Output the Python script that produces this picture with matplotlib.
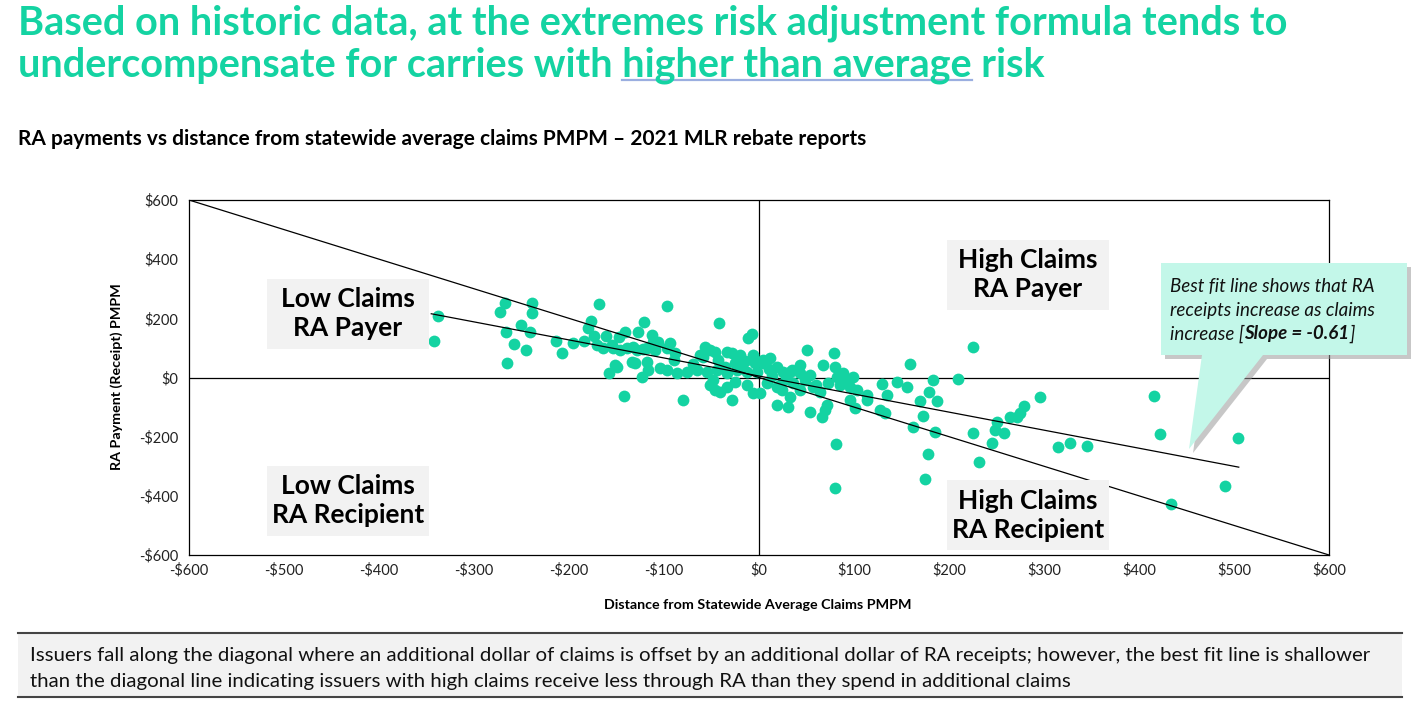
import matplotlib
matplotlib.use('Agg')
import matplotlib.pyplot as plt
from matplotlib.patches import Polygon, Rectangle
from matplotlib.lines import Line2D
import numpy as np

plt.rcParams['font.family'] = ['Lato', 'DejaVu Sans']

# distance from statewide average claims PMPM ($) and RA payment (receipt) PMPM ($)
claims = [-338, -342, -267, -273, -239, -239, -251, -266, -241, -258, -245, -265,
          -214, -207, -196, -184, -168, -177, -180, -174, -161, -171, -164, -147,
          -141, -127, -121, -113, -154, -146, -139, -128, -118, -109, -134, -131,
          -149, -158, -118, -117, -123, -142, -104, -97, -42, -7, -12,
          -112, -106, -94, -155, -133, -122, -97, -88,
          -57, -52, -46, -34, -28, -20, -62, -59, -43, -25, -18, -6, -4, -2, -152,
          -97, -86, -76, -65, -55, -44, -34, -23, -13,
          -52, -46, -41, -34, -25, -13, -6, -80, -28,
          4, 12, 19, 25, 35, 43, 8, 19, 24, 1, 19, 31, 33,
          51, 79, 4, 67, 80, 33, 43, 54, 88, 99, 82, 93, 73, 85, 96,
          22, 36, 43, 57, 64, 103, 114, 114, 96, 101, 72, 69, 66, 54,
          129, 135, 145, 156, 159, 127, 133, 183, 179, 187, 169, 173, 162, 185,
          209, 225, 81, 80, 178, 175, 225, 245, 251, 248, 232,
          296, 279, 275, 264, 272, 258, 315, 327, 345, 416, 422, 504, 491, 434,
          -70, -36, -15, 10, 28, 48, -90, -48, 14, 60]
ra = [208, 123, 252, 221, 252, 218, 178, 154, 154, 113, 93, 49,
      123, 83, 117, 123, 248, 191, 167, 140, 140, 110, 100, 137,
      154, 154, 188, 144, 100, 93, 100, 93, 100, 93, 52, 49,
      36, 15, 52, 25, 2, -63, 32, 242, 184, 147, 134,
      120, 120, 117, 110, 103, 96, 100, 83,
      103, 93, 86, 86, 83, 76, 76, 69, 59, 49, 42, 76, 49, 19, 42,
      25, 15, 19, 25, 19, 25, 15, 25, 19,
      -25, -42, -49, -32, -15, -25, -52, -76, -76,
      59, 66, 36, 19, 25, 42, -19, -32, -42, -52, -93, -100, -66,
      93, 83, 49, 42, 36, 19, 15, 8, 15, 2, 2, -8, -19, -25, -32,
      -25, -19, -42, -32, -49, -42, -59, -76, -76, -103, -93, -110, -134, -117,
      -22, -59, -15, -32, 46, -110, -120, -8, -49, -79, -79, -130, -167, -184,
      -5, 103, -225, -374, -259, -343, -188, -221, -150, -178, -286,
      -66, -96, -120, -134, -134, -188, -235, -221, -232, -63, -191, -205, -367, -428,
      45, 35, 55, 30, -5, -10, 60, -10, 5, -25]

fit_slope = -0.61
fit_intercept = 5
fit_range = [-345, 505]
diag_range = [-600, 600]
ticks_x = list(range(-600, 601, 100))
ticks_y = list(range(-600, 601, 200))

quadrants = [("Low Claims\nRA Payer", -433, 215),
             ("High Claims\nRA Payer", 283, 347),
             ("Low Claims\nRA Recipient", -433, -416),
             ("High Claims\nRA Recipient", 283, -465)]

GREEN = '#14D3A2'
W, H = 1416, 706


def fx(px):
    return px / W


def fy(py):
    return 1 - py / H


def money(v):
    return f"-${abs(v)}" if v < 0 else f"${v}"


fig = plt.figure(figsize=(W / 100, H / 100), dpi=100)
r = fig.canvas.get_renderer()


def text_width(s, **kw):
    t = fig.text(0, 0, s + '|', **kw)
    w1 = t.get_window_extent(r).width
    t.remove()
    t = fig.text(0, 0, '|', **kw)
    w2 = t.get_window_extent(r).width
    t.remove()
    return w1 - w2


# title
tkw = dict(fontsize=28.5, fontweight='bold', color=GREEN)
fig.text(fx(18), fy(35), "Based on historic data, at the extremes risk adjustment formula tends to",
         va='baseline', **tkw)
fig.text(fx(18), fy(76), "undercompensate for carries with higher than average risk",
         va='baseline', **tkw)
u0 = 18 + text_width("undercompensate for carries with ", **tkw)
u1 = u0 + text_width("higher than average", **tkw)
fig.add_artist(Line2D([fx(u0), fx(u1)], [fy(80), fy(80)], color='#9AAEE0', lw=1.6,
                      transform=fig.transFigure))

fig.text(fx(18), fy(145), "RA payments vs distance from statewide average claims PMPM \u2013 2021 MLR rebate reports",
         fontsize=15, fontweight='bold', va='baseline')

# chart
ax = fig.add_axes([fx(189), fy(555), 1140 / W, 355 / H])
ax.scatter(claims, ra, s=72, color=GREEN, linewidths=0, zorder=3)
ax.plot(diag_range, [-v for v in diag_range], color='black', lw=0.9, zorder=4)
ax.plot(fit_range, [fit_slope * v + fit_intercept for v in fit_range], color='black', lw=0.9, zorder=4)
ax.axhline(0, color='black', lw=0.9, zorder=2)
ax.axvline(0, color='black', lw=0.9, zorder=2)
ax.set_xlim(-600, 600)
ax.set_ylim(-600, 600)
ax.set_xticks(ticks_x)
ax.set_xticklabels([money(v) for v in ticks_x])
ax.set_yticks(ticks_y)
ax.set_yticklabels([money(v) for v in ticks_y])
ax.tick_params(length=0, labelsize=10.5, colors='#222222')
ax.tick_params(axis='x', pad=6)
ax.tick_params(axis='y', pad=8)
for s in ax.spines.values():
    s.set_linewidth(0.9)

# quadrant labels on fixed-size light grey boxes (162 x 70 px)
bw, bh = 162 / 0.95, 70 * 1200 / 355
for label, x, y in quadrants:
    ax.add_patch(Rectangle((x - bw / 2, y - bh / 2), bw, bh, fc='#F2F2F2', ec='none', zorder=5))
    ax.text(x, y, label, ha='center', va='center', fontsize=19, fontweight='bold',
            linespacing=1.25, zorder=6)

fig.text(fx(758), fy(605), "Distance from Statewide Average Claims PMPM", ha='center', va='center',
         fontsize=10.3, fontweight='bold')
fig.text(fx(117), fy(377), "RA Payment (Receipt) PMPM", ha='center', va='center', rotation=90,
         fontsize=10.3, fontweight='bold')

# callout
call = [(1161, 263), (1407, 263), (1407, 355), (1263, 355), (1189, 449), (1202, 355), (1161, 355)]
shadow = Polygon([(fx(x + 4), fy(y + 4)) for x, y in call], closed=True, fc='#9A9A9A', ec='none',
                 alpha=0.55, transform=fig.transFigure)
bubble = Polygon([(fx(x), fy(y)) for x, y in call], closed=True, fc='#C3F7E9', ec='none',
                 transform=fig.transFigure)
fig.add_artist(shadow)
fig.add_artist(bubble)
ckw = dict(fontsize=13.5, style='italic', color='#111111', va='center')
fig.text(fx(1170), fy(287), "Best fit line shows that RA", **ckw)
fig.text(fx(1170), fy(311), "receipts increase as claims", **ckw)
fig.text(fx(1170), fy(334), "increase [", **ckw)
x1 = 1170 + text_width("increase [", **ckw)
fig.text(fx(x1), fy(334), "Slope = -0.61", fontweight='bold', **ckw)
x2 = x1 + text_width("Slope = -0.61", fontweight='bold', **ckw)
fig.text(fx(x2), fy(334), "]", **ckw)

# bottom note
fig.add_artist(Rectangle((fx(18), fy(697)), fx(1384), 64 / H, fc='#F2F2F2', ec='none',
                         transform=fig.transFigure))
for yy in (633, 697):
    fig.add_artist(Line2D([fx(18), fx(1402)], [fy(yy), fy(yy)], color='#444444', lw=1.5,
                          transform=fig.transFigure))
fig.text(fx(30), fy(655), "Issuers fall along the diagonal where an additional dollar of claims is offset by an "
         "additional dollar of RA receipts; however, the best fit line is shallower",
         fontsize=14.7, va='center', color='#111111')
fig.text(fx(30), fy(681), "than the diagonal line indicating issuers with high claims receive less through RA "
         "than they spend in additional claims", fontsize=14.7, va='center', color='#111111')

fig.savefig('out.png', dpi=100)
